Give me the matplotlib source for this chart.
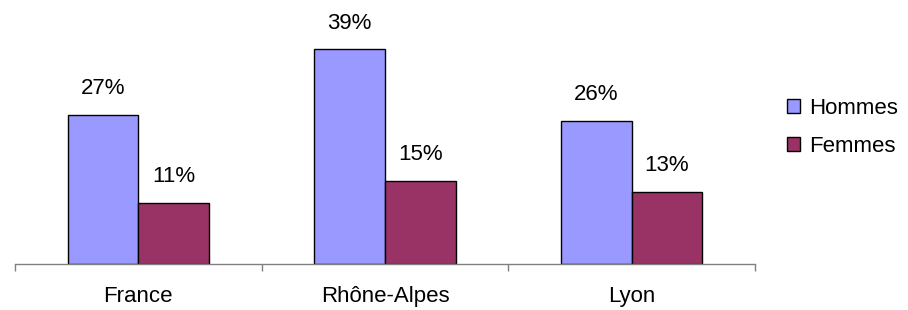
import numpy as np
import matplotlib.pyplot as plt

categories = ['France', 'Rhône-Alpes', 'Lyon']
hommes = [27, 39, 26]
femmes = [11, 15, 13]
series_names = ['Hommes', 'Femmes']

plt.rcParams['font.family'] = ['Liberation Sans', 'DejaVu Sans']

fig = plt.figure(figsize=(9.08, 3.10), dpi=100)
ax = fig.add_axes([15 / 908, 46.5 / 310, 740 / 908, 263.5 / 310])

x = np.arange(len(categories))
w = 0.286
b1 = ax.bar(x - w / 2, hommes, w, color='#9999FF', edgecolor='black', linewidth=1.0, label=series_names[0])
b2 = ax.bar(x + w / 2, femmes, w, color='#993366', edgecolor='black', linewidth=1.0, label=series_names[1])

for bars, vals in ((b1, hommes), (b2, femmes)):
    for r, v in zip(bars, vals):
        ax.annotate(f'{v}%', (r.get_x() + r.get_width() / 2, v), xytext=(0, 15),
                    textcoords='offset points', ha='center', va='baseline', fontsize=16)

ax.set_xlim(-0.5, 2.5)
ax.set_ylim(0, 48)
ax.set_xticks(x)
ax.set_xticklabels(categories, fontsize=16)
ax.set_xticks([-0.5, 0.5, 1.5, 2.5], minor=True)
ax.tick_params(axis='x', which='major', length=0, pad=16)
ax.tick_params(axis='x', which='minor', length=5, width=1, color='#808080', direction='out')
ax.set_yticks([])
for s in ('left', 'right', 'top'):
    ax.spines[s].set_visible(False)
ax.spines['bottom'].set_color('#808080')
ax.spines['bottom'].set_linewidth(1)

fig.legend(loc='upper left', bbox_to_anchor=(778 / 908, 1 - 89 / 310), frameon=False,
           fontsize=16, handlelength=0.6, handleheight=0.6, handletextpad=0.4, labelspacing=0.75,
           borderaxespad=0)

fig.savefig('out.png', dpi=100)
